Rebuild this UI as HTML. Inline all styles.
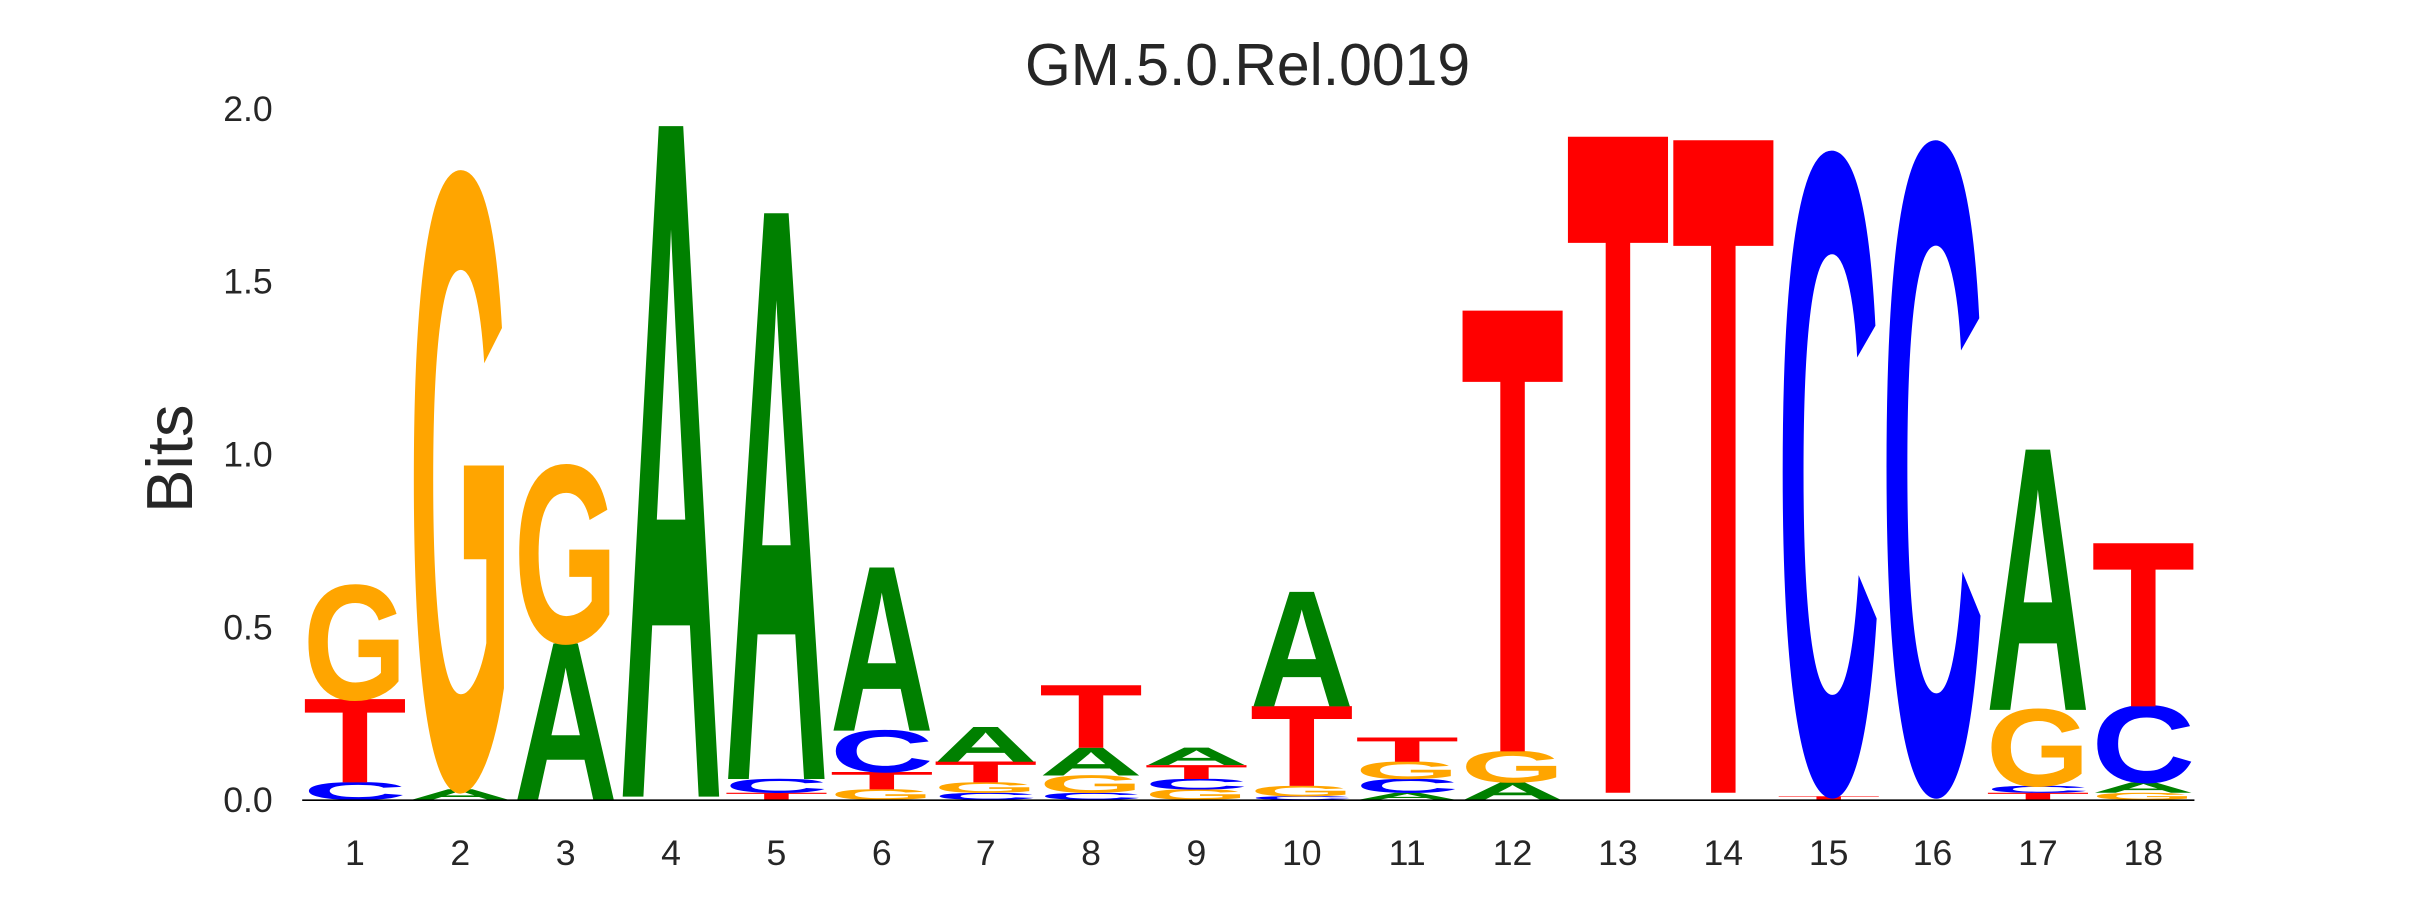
<!DOCTYPE html>
<html><head><meta charset="utf-8"><style>
html,body{margin:0;padding:0;background:#fff;overflow:hidden;width:2430px;height:900px;}
svg{display:block;}
.l{font-family:"Liberation Sans",sans-serif;font-weight:bold;font-size:106.4px;}
.g{fill:#FFA500}.a{fill:#008000}.c{fill:#0000FF}.t{fill:#FF0000}
.tk{font-family:"Liberation Sans",sans-serif;font-size:23px;fill:#262626;}
</style></head><body>
<svg width="2430" height="900" viewBox="0 0 1568 580.7" preserveAspectRatio="none" xmlns="http://www.w3.org/2000/svg">
<rect width="1568" height="581" fill="#fff"/>
<text x="805" y="55" text-anchor="middle" font-family="Liberation Sans, sans-serif" font-size="38" fill="#262626">GM.5.0.Rel.0019</text>
<text transform="translate(124,296) rotate(-90)" text-anchor="middle" font-family="Liberation Sans, sans-serif" font-size="42" fill="#262626">Bits</text>
<g class="tk" text-anchor="end">
<text x="176" y="524">0.0</text>
<text x="176" y="412.5">0.5</text>
<text x="176" y="301">1.0</text>
<text x="176" y="189.5">1.5</text>
<text x="176" y="78">2.0</text>
</g>
<g class="tk" text-anchor="middle">
<text x="229" y="558">1</text><text x="297" y="558">2</text><text x="365" y="558">3</text><text x="433" y="558">4</text><text x="501" y="558">5</text><text x="569" y="558">6</text><text x="636" y="558">7</text><text x="704" y="558">8</text><text x="772" y="558">9</text><text x="840" y="558">10</text><text x="908" y="558">11</text><text x="976" y="558">12</text><text x="1044" y="558">13</text><text x="1112" y="558">14</text><text x="1180" y="558">15</text><text x="1247" y="558">16</text><text x="1315" y="558">17</text><text x="1383" y="558">18</text>
</g>
<g class="l" transform="translate(-1.5,0)">
<text class="c" textLength="67" lengthAdjust="spacingAndGlyphs" transform="translate(197,516) scale(1,0.154)">C</text>
<text class="t" textLength="67" lengthAdjust="spacingAndGlyphs" transform="translate(197,504.8) scale(1,0.734)">T</text>
<text class="g" textLength="67" lengthAdjust="spacingAndGlyphs" transform="translate(197,451.3) scale(1,1.0)">G</text>
<text class="a" textLength="67" lengthAdjust="spacingAndGlyphs" transform="translate(265,516) scale(1,0.092)">A</text>
<text class="g" textLength="67" lengthAdjust="spacingAndGlyphs" transform="translate(265,506.5) scale(1,5.34)">G</text>
<text class="a" textLength="67" lengthAdjust="spacingAndGlyphs" transform="translate(333,516) scale(1,1.377)">A</text>
<text class="g" textLength="67" lengthAdjust="spacingAndGlyphs" transform="translate(333,414.5) scale(1,1.55)">G</text>
<text class="a" textLength="67" lengthAdjust="spacingAndGlyphs" transform="translate(401,514) scale(1,5.91)">A</text>
<text class="t" textLength="67" lengthAdjust="spacingAndGlyphs" transform="translate(469,516) scale(1,0.061)">T</text>
<text class="c" textLength="67" lengthAdjust="spacingAndGlyphs" transform="translate(469,511.5) scale(1,0.122)">C</text>
<text class="a" textLength="67" lengthAdjust="spacingAndGlyphs" transform="translate(469,502.6) scale(1,4.986)">A</text>
<text class="g" textLength="67" lengthAdjust="spacingAndGlyphs" transform="translate(537,516) scale(1,0.092)">G</text>
<text class="t" textLength="67" lengthAdjust="spacingAndGlyphs" transform="translate(537,509.3) scale(1,0.153)">T</text>
<text class="c" textLength="67" lengthAdjust="spacingAndGlyphs" transform="translate(537,498.2) scale(1,0.367)">C</text>
<text class="a" textLength="67" lengthAdjust="spacingAndGlyphs" transform="translate(537,471.4) scale(1,1.438)">A</text>
<text class="c" textLength="67" lengthAdjust="spacingAndGlyphs" transform="translate(604,516) scale(1,0.061)">C</text>
<text class="g" textLength="67" lengthAdjust="spacingAndGlyphs" transform="translate(604,511.5) scale(1,0.092)">G</text>
<text class="t" textLength="67" lengthAdjust="spacingAndGlyphs" transform="translate(604,504.8) scale(1,0.184)">T</text>
<text class="a" textLength="67" lengthAdjust="spacingAndGlyphs" transform="translate(604,491.5) scale(1,0.306)">A</text>
<text class="c" textLength="67" lengthAdjust="spacingAndGlyphs" transform="translate(672,516) scale(1,0.061)">C</text>
<text class="g" textLength="67" lengthAdjust="spacingAndGlyphs" transform="translate(672,511.5) scale(1,0.153)">G</text>
<text class="a" textLength="67" lengthAdjust="spacingAndGlyphs" transform="translate(672,500.4) scale(1,0.245)">A</text>
<text class="t" textLength="67" lengthAdjust="spacingAndGlyphs" transform="translate(672,482.5) scale(1,0.551)">T</text>
<text class="g" textLength="67" lengthAdjust="spacingAndGlyphs" transform="translate(740,516) scale(1,0.092)">G</text>
<text class="c" textLength="67" lengthAdjust="spacingAndGlyphs" transform="translate(740,509.3) scale(1,0.092)">C</text>
<text class="t" textLength="67" lengthAdjust="spacingAndGlyphs" transform="translate(740,502.6) scale(1,0.122)">T</text>
<text class="a" textLength="67" lengthAdjust="spacingAndGlyphs" transform="translate(740,493.6) scale(1,0.153)">A</text>
<text class="c" textLength="67" lengthAdjust="spacingAndGlyphs" transform="translate(808,516) scale(1,0.031)">C</text>
<text class="g" textLength="67" lengthAdjust="spacingAndGlyphs" transform="translate(808,513.8) scale(1,0.092)">G</text>
<text class="t" textLength="67" lengthAdjust="spacingAndGlyphs" transform="translate(808,507.1) scale(1,0.704)">T</text>
<text class="a" textLength="67" lengthAdjust="spacingAndGlyphs" transform="translate(808,455.8) scale(1,1.01)">A</text>
<text class="a" textLength="67" lengthAdjust="spacingAndGlyphs" transform="translate(876,516) scale(1,0.061)">A</text>
<text class="c" textLength="67" lengthAdjust="spacingAndGlyphs" transform="translate(876,511.5) scale(1,0.122)">C</text>
<text class="g" textLength="67" lengthAdjust="spacingAndGlyphs" transform="translate(876,502.6) scale(1,0.153)">G</text>
<text class="t" textLength="67" lengthAdjust="spacingAndGlyphs" transform="translate(876,491.5) scale(1,0.214)">T</text>
<text class="a" textLength="67" lengthAdjust="spacingAndGlyphs" transform="translate(944,516) scale(1,0.153)">A</text>
<text class="g" textLength="67" lengthAdjust="spacingAndGlyphs" transform="translate(944,504.8) scale(1,0.275)">G</text>
<text class="t" textLength="67" lengthAdjust="spacingAndGlyphs" transform="translate(944,484.8) scale(1,3.885)">T</text>
<text class="t" textLength="67" lengthAdjust="spacingAndGlyphs" transform="translate(1012,511.5) scale(1,5.782)">T</text>
<text class="t" textLength="67" lengthAdjust="spacingAndGlyphs" transform="translate(1080,511.5) scale(1,5.751)">T</text>
<text class="t" textLength="67" lengthAdjust="spacingAndGlyphs" transform="translate(1148,516) scale(1,0.031)">T</text>
<text class="c" textLength="67" lengthAdjust="spacingAndGlyphs" transform="translate(1148,509.5) scale(1,5.55)">C</text>
<text class="c" textLength="67" lengthAdjust="spacingAndGlyphs" transform="translate(1215,509.5) scale(1,5.64)">C</text>
<text class="t" textLength="67" lengthAdjust="spacingAndGlyphs" transform="translate(1283,516) scale(1,0.061)">T</text>
<text class="c" textLength="67" lengthAdjust="spacingAndGlyphs" transform="translate(1283,511.5) scale(1,0.061)">C</text>
<text class="g" textLength="67" lengthAdjust="spacingAndGlyphs" transform="translate(1283,507.1) scale(1,0.673)">G</text>
<text class="a" textLength="67" lengthAdjust="spacingAndGlyphs" transform="translate(1283,458) scale(1,2.294)">A</text>
<text class="g" textLength="67" lengthAdjust="spacingAndGlyphs" transform="translate(1351,516) scale(1,0.061)">G</text>
<text class="a" textLength="67" lengthAdjust="spacingAndGlyphs" transform="translate(1351,511.5) scale(1,0.092)">A</text>
<text class="c" textLength="67" lengthAdjust="spacingAndGlyphs" transform="translate(1351,504.8) scale(1,0.673)">C</text>
<text class="t" textLength="67" lengthAdjust="spacingAndGlyphs" transform="translate(1351,455.8) scale(1,1.438)">T</text>
</g>
<line x1="195" y1="516.3" x2="1416" y2="516.3" stroke="#000" stroke-width="1"/>
</svg>
</body></html>
